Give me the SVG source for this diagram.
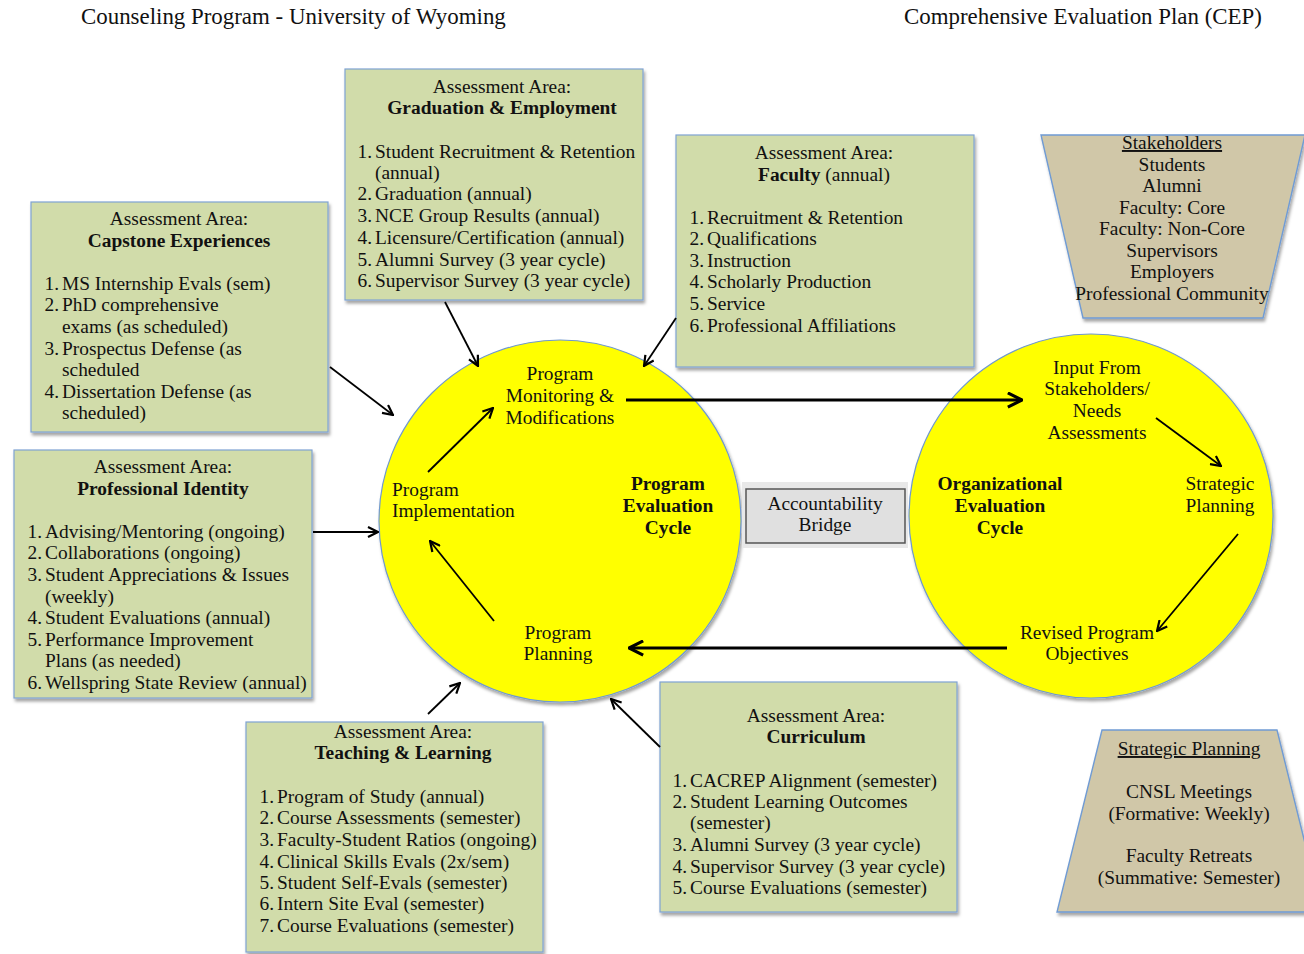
<svg xmlns="http://www.w3.org/2000/svg" width="1304" height="954" viewBox="0 0 1304 954">
  <defs>
    <filter id="shadow" x="-10%" y="-10%" width="125%" height="125%">
      <feDropShadow dx="1.5" dy="3" stdDeviation="1.8" flood-color="#000" flood-opacity="0.35"/>
    </filter>
    <marker id="head" viewBox="0 0 12 12" refX="11" refY="6" markerWidth="12" markerHeight="12" markerUnits="userSpaceOnUse" orient="auto">
      <path d="M1,1 L11,6 L1,11" fill="none" stroke="#000" stroke-width="2.2" stroke-linejoin="miter"/>
    </marker>
    <marker id="headBig" viewBox="0 0 12 12" refX="11" refY="6" markerWidth="17" markerHeight="17" markerUnits="userSpaceOnUse" orient="auto">
      <path d="M1,1 L11,6 L1,11" fill="none" stroke="#000" stroke-width="2.2"/>
    </marker>
  </defs>
  <style>
    text { font-family: "Liberation Serif", "DejaVu Serif", serif; font-size: 19.4px; fill: #111; }
    .title { font-size: 22.9px; }
    .c { text-anchor: middle; }
    .b { font-weight: bold; }
    .u { text-decoration: underline; }
    .n { text-anchor: end; }
    .area { fill: #d1dcaa; stroke: #7fa3d3; stroke-width: 1.2; filter: url(#shadow); }
    .trap { fill: #d0c7a8; stroke: #6f9bd4; stroke-width: 1.4; filter: url(#shadow); }
    .cycle { fill: #ffff00; stroke: #6f98cf; stroke-width: 1.2; filter: url(#shadow); }
    .thin { stroke: #000; stroke-width: 1.8; fill: none; marker-end: url(#head); }
    .thick { stroke: #000; stroke-width: 3.2; fill: none; marker-end: url(#headBig); }
  </style>

  <rect width="1304" height="954" fill="#fff"/>

  <!-- page headers -->
  <text class="title" x="81" y="24">Counseling Program - University of Wyoming</text>
  <text class="title" x="904" y="24">Comprehensive Evaluation Plan (CEP)</text>

  <!-- evaluation cycles -->
  <g id="program-cycle">
    <circle class="cycle" cx="560" cy="521" r="181"/>
    <text class="c" x="560" y="380">Program</text>
    <text class="c" x="560" y="402">Monitoring &amp;</text>
    <text class="c" x="560" y="424">Modifications</text>
    <text x="392" y="496">Program</text>
    <text x="392" y="517">Implementation</text>
    <text class="c b" x="668" y="490">Program</text>
    <text class="c b" x="668" y="512">Evaluation</text>
    <text class="c b" x="668" y="534">Cycle</text>
    <text class="c" x="558" y="639">Program</text>
    <text class="c" x="558" y="660">Planning</text>
  </g>

  <g id="organizational-cycle">
    <circle class="cycle" cx="1091" cy="516" r="182"/>
    <text class="c" x="1097" y="374">Input From</text>
    <text class="c" x="1097" y="395">Stakeholders/</text>
    <text class="c" x="1097" y="417">Needs</text>
    <text class="c" x="1097" y="439">Assessments</text>
    <text class="c" x="1220" y="490">Strategic</text>
    <text class="c" x="1220" y="512">Planning</text>
    <text class="c b" x="1000" y="490">Organizational</text>
    <text class="c b" x="1000" y="512">Evaluation</text>
    <text class="c b" x="1000" y="534">Cycle</text>
    <text class="c" x="1087" y="639">Revised Program</text>
    <text class="c" x="1087" y="660">Objectives</text>
  </g>

  <g id="accountability-bridge">
    <rect x="742" y="482" width="166" height="66" fill="#e8e8e8"/>
    <rect x="746" y="489" width="159" height="54" fill="#e0e0e0" stroke="#555" stroke-width="1.5"/>
    <text class="c" x="825" y="510">Accountability</text>
    <text class="c" x="825" y="531">Bridge</text>
  </g>

  <!-- assessment areas: numbers are right-aligned just before the item text -->
  <g id="graduation-employment">
    <rect class="area" x="345" y="69" width="298" height="231"/>
    <text class="c" x="502" y="93">Assessment Area:</text>
    <text class="c b" x="502" y="114">Graduation &amp; Employment</text>
    <text class="n" x="372" y="158">1.</text><text x="375" y="158">Student Recruitment &amp; Retention</text>
    <text x="375" y="179">(annual)</text>
    <text class="n" x="372" y="200">2.</text><text x="375" y="200">Graduation (annual)</text>
    <text class="n" x="372" y="222">3.</text><text x="375" y="222">NCE Group Results (annual)</text>
    <text class="n" x="372" y="244">4.</text><text x="375" y="244">Licensure/Certification (annual)</text>
    <text class="n" x="372" y="266">5.</text><text x="375" y="266">Alumni Survey (3 year cycle)</text>
    <text class="n" x="372" y="287">6.</text><text x="375" y="287">Supervisor Survey (3 year cycle)</text>
  </g>

  <g id="faculty">
    <rect class="area" x="676" y="135" width="298" height="232"/>
    <text class="c" x="824" y="159">Assessment Area:</text>
    <text class="c" x="824" y="181"><tspan class="b">Faculty</tspan> (annual)</text>
    <text class="n" x="704" y="224">1.</text><text x="707" y="224">Recruitment &amp; Retention</text>
    <text class="n" x="704" y="245">2.</text><text x="707" y="245">Qualifications</text>
    <text class="n" x="704" y="267">3.</text><text x="707" y="267">Instruction</text>
    <text class="n" x="704" y="288">4.</text><text x="707" y="288">Scholarly Production</text>
    <text class="n" x="704" y="310">5.</text><text x="707" y="310">Service</text>
    <text class="n" x="704" y="332">6.</text><text x="707" y="332">Professional Affiliations</text>
  </g>

  <g id="capstone-experiences">
    <rect class="area" x="31" y="202" width="297" height="230"/>
    <text class="c" x="179" y="225">Assessment Area:</text>
    <text class="c b" x="179" y="247">Capstone Experiences</text>
    <text class="n" x="59" y="290">1.</text><text x="62" y="290">MS Internship Evals (sem)</text>
    <text class="n" x="59" y="311">2.</text><text x="62" y="311">PhD comprehensive</text>
    <text x="62" y="333">exams (as scheduled)</text>
    <text class="n" x="59" y="355">3.</text><text x="62" y="355">Prospectus Defense (as</text>
    <text x="62" y="376">scheduled</text>
    <text class="n" x="59" y="398">4.</text><text x="62" y="398">Dissertation Defense (as</text>
    <text x="62" y="419">scheduled)</text>
  </g>

  <g id="professional-identity">
    <rect class="area" x="14" y="450" width="298" height="248"/>
    <text class="c" x="163" y="473">Assessment Area:</text>
    <text class="c b" x="163" y="495">Professional Identity</text>
    <text class="n" x="42" y="538">1.</text><text x="45" y="538">Advising/Mentoring (ongoing)</text>
    <text class="n" x="42" y="559">2.</text><text x="45" y="559">Collaborations (ongoing)</text>
    <text class="n" x="42" y="581">3.</text><text x="45" y="581">Student Appreciations &amp; Issues</text>
    <text x="45" y="603">(weekly)</text>
    <text class="n" x="42" y="624">4.</text><text x="45" y="624">Student Evaluations (annual)</text>
    <text class="n" x="42" y="646">5.</text><text x="45" y="646">Performance Improvement</text>
    <text x="45" y="667">Plans (as needed)</text>
    <text class="n" x="42" y="689">6.</text><text x="45" y="689">Wellspring State Review (annual)</text>
  </g>

  <g id="teaching-learning">
    <rect class="area" x="246" y="722" width="297" height="230"/>
    <text class="c" x="403" y="738">Assessment Area:</text>
    <text class="c b" x="403" y="759">Teaching &amp; Learning</text>
    <text class="n" x="274" y="803">1.</text><text x="277" y="803">Program of Study (annual)</text>
    <text class="n" x="274" y="824">2.</text><text x="277" y="824">Course Assessments (semester)</text>
    <text class="n" x="274" y="846">3.</text><text x="277" y="846">Faculty-Student Ratios (ongoing)</text>
    <text class="n" x="274" y="868">4.</text><text x="277" y="868">Clinical Skills Evals (2x/sem)</text>
    <text class="n" x="274" y="889">5.</text><text x="277" y="889">Student Self-Evals (semester)</text>
    <text class="n" x="274" y="910">6.</text><text x="277" y="910">Intern Site Eval (semester)</text>
    <text class="n" x="274" y="932">7.</text><text x="277" y="932">Course Evaluations (semester)</text>
  </g>

  <g id="curriculum">
    <rect class="area" x="660" y="682" width="297" height="230"/>
    <text class="c" x="816" y="722">Assessment Area:</text>
    <text class="c b" x="816" y="743">Curriculum</text>
    <text class="n" x="687" y="787">1.</text><text x="690" y="787">CACREP Alignment (semester)</text>
    <text class="n" x="687" y="808">2.</text><text x="690" y="808">Student Learning Outcomes</text>
    <text x="690" y="829">(semester)</text>
    <text class="n" x="687" y="851">3.</text><text x="690" y="851">Alumni Survey (3 year cycle)</text>
    <text class="n" x="687" y="873">4.</text><text x="690" y="873">Supervisor Survey (3 year cycle)</text>
    <text class="n" x="687" y="894">5.</text><text x="690" y="894">Course Evaluations (semester)</text>
  </g>

  <!-- planning funnels -->
  <g id="stakeholders">
    <polygon class="trap" points="1041,135 1305,135 1263,318 1083,318"/>
    <text class="c u" x="1172" y="149">Stakeholders</text>
    <text class="c" x="1172" y="171">Students</text>
    <text class="c" x="1172" y="192">Alumni</text>
    <text class="c" x="1172" y="214">Faculty: Core</text>
    <text class="c" x="1172" y="235">Faculty: Non-Core</text>
    <text class="c" x="1172" y="257">Supervisors</text>
    <text class="c" x="1172" y="278">Employers</text>
    <text class="c" x="1172" y="300">Professional Community</text>
  </g>

  <g id="strategic-planning">
    <polygon class="trap" points="1102,730 1277,730 1322,912 1057,912"/>
    <text class="c u" x="1189" y="755">Strategic Planning</text>
    <text class="c" x="1189" y="798">CNSL Meetings</text>
    <text class="c" x="1189" y="820">(Formative: Weekly)</text>
    <text class="c" x="1189" y="862">Faculty Retreats</text>
    <text class="c" x="1189" y="884">(Summative: Semester)</text>
  </g>

  <!-- connectors -->
  <g id="connectors">
    <line class="thick" x1="626" y1="400" x2="1022" y2="400"/>
    <line class="thick" x1="1007" y1="648" x2="629" y2="648"/>
    <line class="thin" x1="428" y1="472" x2="493" y2="408"/>
    <line class="thin" x1="494" y1="621" x2="430" y2="541"/>
    <line class="thin" x1="1156" y1="418" x2="1221" y2="466"/>
    <line class="thin" x1="1238" y1="534" x2="1157" y2="631"/>
    <line class="thin" x1="445" y1="302" x2="478" y2="366"/>
    <line class="thin" x1="676" y1="318" x2="644" y2="366"/>
    <line class="thin" x1="330" y1="367" x2="393" y2="415"/>
    <line class="thin" x1="313" y1="532" x2="378" y2="532"/>
    <line class="thin" x1="428" y1="714" x2="460" y2="683"/>
    <line class="thin" x1="660" y1="747" x2="611" y2="699"/>
  </g>
</svg>
